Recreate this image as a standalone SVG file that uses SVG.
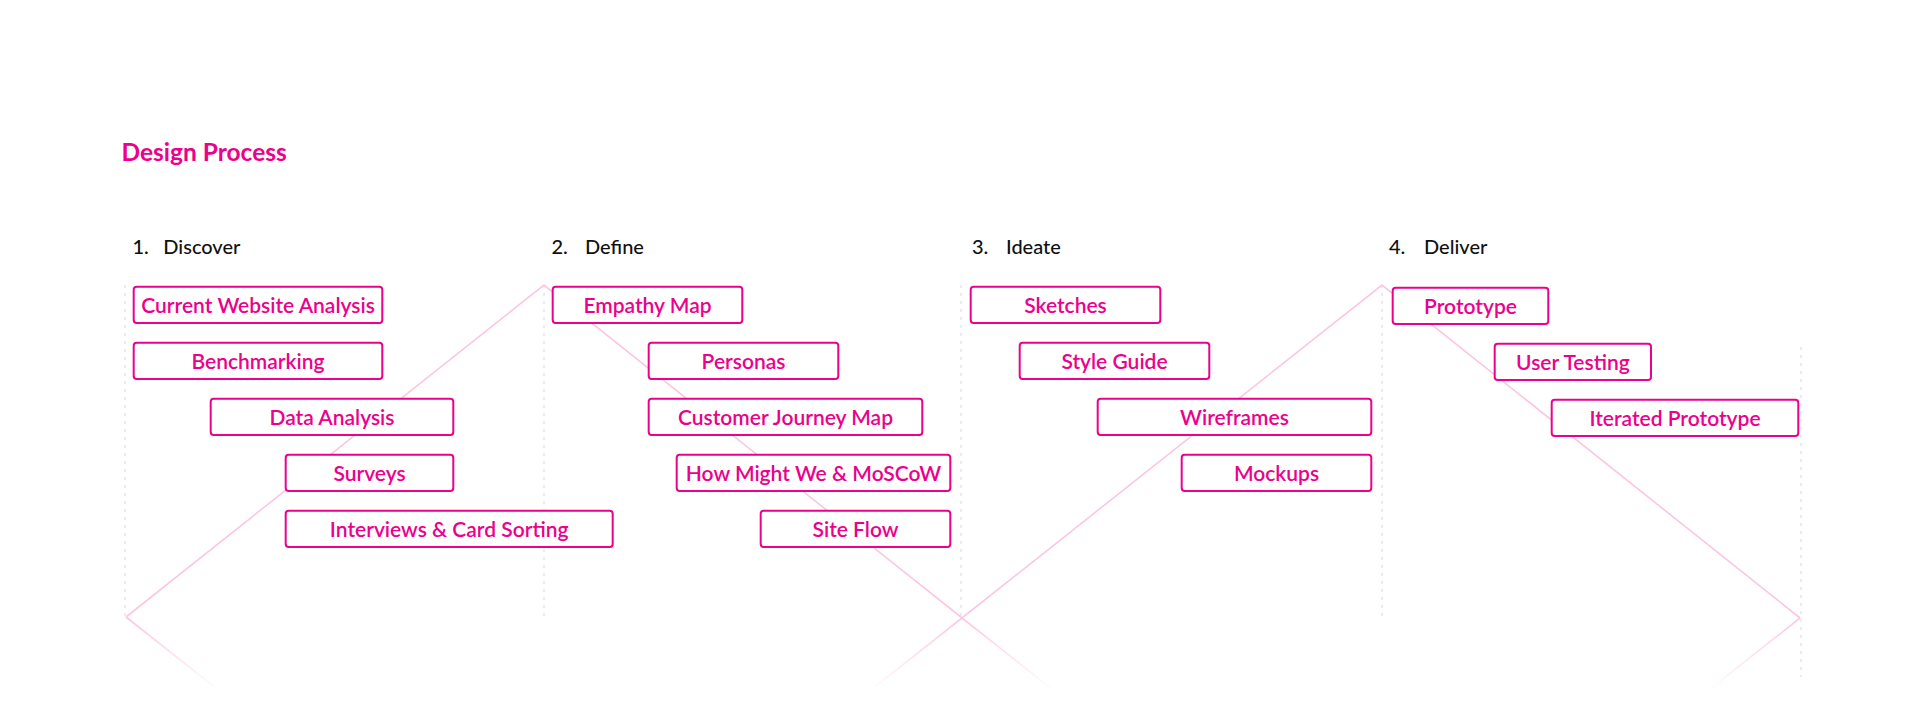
<svg xmlns="http://www.w3.org/2000/svg" width="1920" height="719" viewBox="0 0 1920 719">
  <defs>
    <style>
      .title { font-family: Lato, "Open Sans", "Liberation Sans", sans-serif; font-weight: 700; font-size: 24.5px; fill: #EC008C; }
      .head { font-family: Lato, "Open Sans", "Liberation Sans", sans-serif; font-weight: 500; font-size: 20px; fill: #111111; }
      .box { fill: #ffffff; stroke: #EC008C; stroke-width: 2; }
      .lbl { font-family: Lato, "Open Sans", "Liberation Sans", sans-serif; font-weight: 600; font-size: 21px; fill: #EC008C; text-anchor: middle; }
      .guide { fill: none; stroke: #E6E6EA; stroke-width: 1.5; stroke-dasharray: 3 5; }
      .zig { fill: none; stroke: #FBC6E3; stroke-width: 1.6; stroke-linejoin: miter; }
    </style>
    <linearGradient id="fade" gradientUnits="userSpaceOnUse" x1="0" y1="617" x2="0" y2="692">
      <stop offset="0" stop-color="#FBC6E3" stop-opacity="1"/>
      <stop offset="1" stop-color="#FBC6E3" stop-opacity="0"/>
    </linearGradient>
  </defs>
  <rect width="1920" height="719" fill="#ffffff"/>

  <text class="title" x="121.5" y="161">Design Process</text>

  <g id="headings">
    <text class="head" x="132.5" y="254">1.</text><text class="head" x="163.3" y="254">Discover</text>
    <text class="head" x="551.5" y="254">2.</text><text class="head" x="585" y="254">Define</text>
    <text class="head" x="972" y="254">3.</text><text class="head" x="1006" y="254">Ideate</text>
    <text class="head" x="1389" y="254">4.</text><text class="head" x="1424" y="254">Deliver</text>
  </g>

  <g id="connectors">
    <line class="guide" x1="125" y1="285" x2="125" y2="616"/>
    <line class="guide" x1="544" y1="285" x2="544" y2="617"/>
    <line class="guide" x1="961" y1="285" x2="961" y2="616"/>
    <line class="guide" x1="1382" y1="285" x2="1382" y2="616"/>
    <line class="guide" x1="1801" y1="347" x2="1801" y2="677"/>
    <polyline class="zig" points="126,617 544,285 962,618 1382,285 1800,618"/>
    <g fill="none" stroke="url(#fade)" stroke-width="1.6">
      <line x1="126" y1="617" x2="222" y2="693"/>
      <line x1="962" y1="618" x2="866" y2="694"/>
      <line x1="962" y1="618" x2="1058" y2="694"/>
      <line x1="1800" y1="618" x2="1704" y2="694"/>
    </g>
  </g>

  <g id="n-current-website-analysis"><rect class="box" x="133.7" y="286.7" width="248.6" height="36.3" rx="3"/><text class="lbl" x="258" y="313">Current Website Analysis</text></g>
  <g id="n-benchmarking"><rect class="box" x="133.7" y="342.7" width="248.6" height="36.3" rx="3"/><text class="lbl" x="258" y="369">Benchmarking</text></g>
  <g id="n-data-analysis"><rect class="box" x="210.7" y="398.7" width="242.6" height="36.3" rx="3"/><text class="lbl" x="332" y="425">Data Analysis</text></g>
  <g id="n-surveys"><rect class="box" x="285.7" y="454.7" width="167.6" height="36.3" rx="3"/><text class="lbl" x="369.5" y="481">Surveys</text></g>
  <g id="n-interviews"><rect class="box" x="285.7" y="510.7" width="327" height="36.3" rx="3"/><text class="lbl" x="449.2" y="537">Interviews &amp; Card Sorting</text></g>

  <g id="n-empathy-map"><rect class="box" x="552.7" y="286.7" width="189.6" height="36.3" rx="3"/><text class="lbl" x="647.5" y="313">Empathy Map</text></g>
  <g id="n-personas"><rect class="box" x="648.7" y="342.7" width="189.6" height="36.3" rx="3"/><text class="lbl" x="743.5" y="369">Personas</text></g>
  <g id="n-customer-journey-map"><rect class="box" x="648.7" y="398.7" width="273.6" height="36.3" rx="3"/><text class="lbl" x="785.5" y="425">Customer Journey Map</text></g>
  <g id="n-how-might-we"><rect class="box" x="676.7" y="454.7" width="273.6" height="36.3" rx="3"/><text class="lbl" x="813.5" y="481">How Might We &amp; MoSCoW</text></g>
  <g id="n-site-flow"><rect class="box" x="760.7" y="510.7" width="189.6" height="36.3" rx="3"/><text class="lbl" x="855.5" y="537">Site Flow</text></g>

  <g id="n-sketches"><rect class="box" x="970.7" y="286.7" width="189.6" height="36.3" rx="3"/><text class="lbl" x="1065.5" y="313">Sketches</text></g>
  <g id="n-style-guide"><rect class="box" x="1019.7" y="342.7" width="189.6" height="36.3" rx="3"/><text class="lbl" x="1114.5" y="369">Style Guide</text></g>
  <g id="n-wireframes"><rect class="box" x="1097.7" y="398.7" width="273.6" height="36.3" rx="3"/><text class="lbl" x="1234.5" y="425">Wireframes</text></g>
  <g id="n-mockups"><rect class="box" x="1181.7" y="454.7" width="189.6" height="36.3" rx="3"/><text class="lbl" x="1276.5" y="481">Mockups</text></g>

  <g id="n-prototype"><rect class="box" x="1392.7" y="287.7" width="155.6" height="36.3" rx="3"/><text class="lbl" x="1470.5" y="314">Prototype</text></g>
  <g id="n-user-testing"><rect class="box" x="1494.7" y="343.7" width="156.3" height="36.3" rx="3"/><text class="lbl" x="1572.9" y="370">User Testing</text></g>
  <g id="n-iterated-prototype"><rect class="box" x="1551.7" y="399.7" width="246.6" height="36.3" rx="3"/><text class="lbl" x="1675" y="426">Iterated Prototype</text></g>
</svg>
